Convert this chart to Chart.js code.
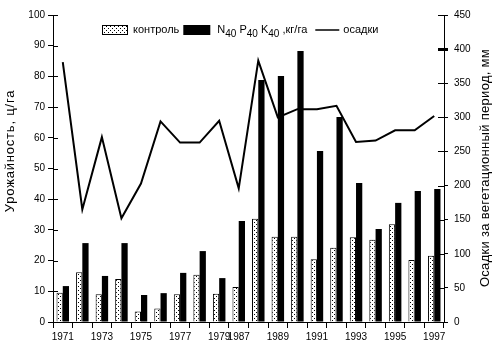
<!DOCTYPE html>
<html>
<head>
<meta charset="utf-8">
<script src="https://cdn.jsdelivr.net/npm/chart.js@4.4.0/dist/chart.umd.min.js"></script>
<style>
  html, body { margin: 0; padding: 0; background: #fff; }
  #wrap { width: 496px; height: 353px; }
</style>
</head>
<body>
<div id="wrap"><canvas id="myChart" width="496" height="353"></canvas></div>
<script>
// Les années (pas de données entre 1980 et 1986)
const years = ["1971", "1972", "1973", "1974", "1975", "1976", "1977", "1978", "1979",
  "1987", "1988", "1989", "1990", "1991", "1992", "1993", "1994", "1995", "1996", "1997"];
// Les années affichées sous l'axe
const shownYears = ["1971", "1973", "1975", "1977", "1979", "1987", "1989", "1991", "1993", "1995", "1997"];

// Урожайность, ц/га
const kontrol = [9.5, 16.2, 9, 14, 3.4, 4.4, 9, 15.4, 9.2, 11.4, 33.6, 27.8, 27.8, 20.4, 24.2, 27.6, 26.8, 31.8, 20.2, 21.6];
const npk = [11.7, 25.7, 15, 25.7, 8.8, 9.4, 16, 23.1, 14.3, 32.9, 78.8, 80.1, 88.3, 55.7, 66.8, 45.3, 30.3, 38.8, 42.7, 43.3];
// Осадки, мм
const osadki = [381, 165, 271, 152, 203, 294, 263, 263, 295, 196, 383, 300, 312, 312, 317, 264, 266, 281, 281, 302];

const FONT = '"Liberation Sans", Arial, sans-serif';
const ctx = document.querySelector("#myChart").getContext("2d");

// motif pointillé pour le contrôle
function dotPattern() {
  const c = document.createElement("canvas");
  c.width = 4;
  c.height = 4;
  const g = c.getContext("2d");
  g.fillStyle = "#fff";
  g.fillRect(0, 0, 4, 4);
  g.fillStyle = "#000";
  g.fillRect(0, 0, 1, 1);
  g.fillRect(2, 2, 1, 1);
  return ctx.createPattern(c, "repeat");
}
const DOTS = dotPattern();

// petits traits vers l'intérieur + titres des axes + légende
const decorPlugin = {
  id: "decor",
  afterDraw(chart) {
    const c = chart.ctx;
    const yL = chart.scales.y;
    const yR = chart.scales.y2;
    c.save();
    c.strokeStyle = "#000";
    yL.ticks.forEach((t) => {
      const p = Math.round(yL.getPixelForValue(t.value)) + 0.5;
      c.lineWidth = 1;
      c.beginPath();
      c.moveTo(yL.right, p);
      c.lineTo(yL.right + 5, p);
      c.stroke();
    });
    yR.ticks.forEach((t) => {
      const p = Math.round(yR.getPixelForValue(t.value)) + 0.5;
      c.lineWidth = t.value === 400 ? 3 : 1;
      c.beginPath();
      c.moveTo(yR.left, p);
      c.lineTo(yR.left - 6, p);
      c.stroke();
    });

    // titres
    c.fillStyle = "#000";
    c.textAlign = "center";
    c.textBaseline = "middle";
    c.font = "13px " + FONT;
    c.save();
    c.letterSpacing = "0.8px";
    c.translate(10, 151);
    c.rotate(-Math.PI / 2);
    c.fillText("Урожайность, ц/га", 0, 0);
    c.restore();
    c.save();
    c.letterSpacing = "0.3px";
    c.translate(485, 168);
    c.rotate(-Math.PI / 2);
    c.fillText("Осадки за вегетационный период, мм", 0, 0);
    c.restore();

    // légende
    const y = 30;
    c.textAlign = "left";
    c.font = "11px " + FONT;
    let x = 102;
    c.fillStyle = DOTS;
    c.fillRect(x, y - 5, 26, 10);
    c.lineWidth = 1;
    c.strokeRect(x + 0.5, y - 4.5, 25, 9);
    x += 31;
    c.fillStyle = "#000";
    c.fillText(chart.data.datasets[0].label, x, y);
    x += c.measureText(chart.data.datasets[0].label).width + 4;
    c.fillRect(x, y - 5, 27, 10);
    x += 34;
    const parts = [["N", 0], ["40", 1], [" P", 0], ["40", 1], [" K", 0], ["40", 1], [" ,кг/га", 0]];
    parts.forEach(([txt, sub]) => {
      c.font = (sub ? "10px " : "11px ") + FONT;
      c.fillText(txt, x, y + (sub ? 4 : 0));
      x += c.measureText(txt).width;
    });
    x += 8;
    c.lineWidth = 1.5;
    c.beginPath();
    c.moveTo(x, y);
    c.lineTo(x + 24, y);
    c.stroke();
    x += 28;
    c.font = "11px " + FONT;
    c.fillText(chart.data.datasets[2].label, x, y);
    c.restore();
  },
};

Chart.defaults.font.family = FONT;
Chart.defaults.font.size = 10;
Chart.defaults.color = "#000";

const CONFIG = {
  type: "bar",
  data: {
    labels: years,
    datasets: [
      {
        label: "контроль",
        data: kontrol,
        backgroundColor: DOTS,
        borderColor: "#000",
        borderWidth: 1,
        yAxisID: "y",
        order: 1,
      },
      {
        label: "N40 P40 K40, кг/га",
        data: npk,
        backgroundColor: "#000",
        borderWidth: 0,
        yAxisID: "y",
        order: 1,
      },
      {
        type: "line",
        label: "осадки",
        data: osadki,
        borderColor: "#000",
        borderWidth: 2,
        pointRadius: 0,
        tension: 0,
        fill: false,
        yAxisID: "y2",
        order: 0,
      },
    ],
  },
  options: {
    responsive: false,
    animation: false,
    devicePixelRatio: 1,
    categoryPercentage: 0.64,
    barPercentage: 1.0,
    layout: { padding: { top: 15, left: 0, right: 0, bottom: 0 } },
    plugins: {
      legend: { display: false },
      title: { display: false },
    },
    scales: {
      x: {
        offset: true,
        grid: { offset: true, drawOnChartArea: false, tickLength: 6, color: "#000" },
        border: { display: true, color: "#000" },
        ticks: {
          autoSkip: false,
          maxRotation: 0,
          padding: 3,
          callback: function (val, i) {
            const lab = years[i];
            return shownYears.includes(lab) ? lab : "";
          },
        },
        afterFit: (s) => { s.height = 31; },
      },
      y: {
        position: "left",
        min: 0,
        max: 100,
        ticks: { stepSize: 10, padding: 3 },
        grid: { drawOnChartArea: false, tickLength: 5, color: "#000" },
        border: { display: true, color: "#000" },
        afterFit: (s) => { s.width = 53; },
      },
      y2: {
        position: "right",
        min: 0,
        max: 450,
        ticks: { stepSize: 50, padding: 6 },
        grid: {
          drawOnChartArea: false,
          tickLength: 4,
          color: "#000",
          tickWidth: (c) => (c.tick && c.tick.value === 400 ? 3 : 1),
        },
        border: { display: true, color: "#000" },
        afterFit: (s) => { s.width = 52; },
      },
    },
  },
  plugins: [decorPlugin],
};

const chartBars = new Chart(ctx, CONFIG);
</script>
</body>
</html>
